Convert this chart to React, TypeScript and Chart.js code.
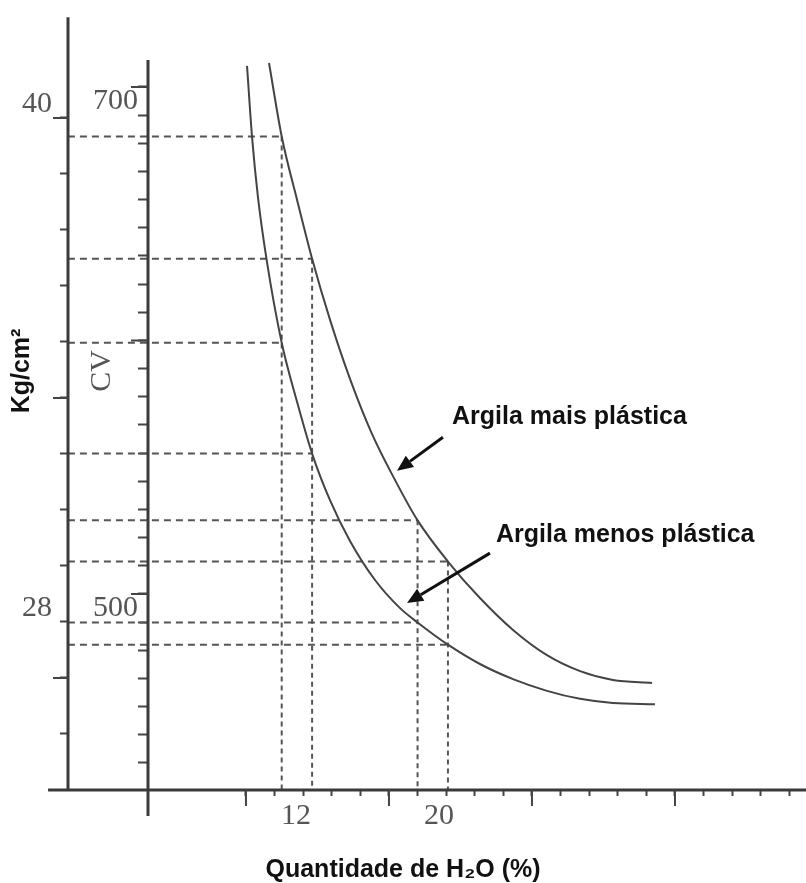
import React, { useEffect, useRef } from 'react';
import { Chart, registerables } from 'chart.js';

Chart.register(...registerables);

// ---------------- data (x = Quantidade de H2O %, y = Kg/cm²) ----------------
const maisPlasticaH2O = [10.49, 11.2, 12.06, 12.9, 13.9, 15.02, 16.25, 17.54, 18.8, 20.5, 22.29, 24.14, 26.04, 27.89, 29.73, 31.92];
const maisPlasticaKg = [41.31, 39.56, 38.05, 36.65, 35.2, 33.79, 32.48, 31.38, 30.42, 29.44, 28.57, 27.81, 27.21, 26.83, 26.62, 26.55];

const menosPlasticaH2O = [9.26, 9.54, 9.87, 10.35, 11.2, 12.06, 12.9, 13.9, 15.02, 16.42, 17.82, 18.8, 20.5, 22.29, 24.14, 26.04, 27.89, 29.73, 32.08];
const menosPlasticaKg = [41.24, 39.55, 38.12, 36.64, 34.65, 33.24, 32.01, 30.9, 29.93, 29.0, 28.33, 27.99, 27.46, 27.0, 26.64, 26.36, 26.17, 26.07, 26.04];

// dashed guide lines: water content and the pressure read on each curve
const guideH2O = [11.2, 12.9, 18.8, 20.5];
const guideKgMais = [39.56, 36.65, 30.42, 29.44];
const guideKgMenos = [34.65, 32.01, 27.99, 27.46];

// tick labels
const xTickLabels = [12, 20];
const kgTickLabels = [40, 28];
const cvTickLabels = [700, 500];

// tick marks
const xTickValues = Array.from({ length: 20 }, (_, k) => 9.2 + 1.6 * k);
const xMajorTicks = [9.2, 17.2, 25.2, 33.2];
const kgTickValues = Array.from({ length: 12 }, (_, k) => 24 + (4 / 3) * (k + 1));
const kgMajorTicks = [40, 100 / 3, 80 / 3];
const cvTickValues = Array.from({ length: 25 }, (_, k) => 500 + (200 / 18) * (k - 6));
const cvMajorTicks = [700, 600, 500];

// annotations
const noteTexts = ['Argila mais plástica', 'Argila menos plástica'];
const noteAnchor = [[20.73, 32.87], [23.19, 30.07]];
const arrowFrom = [[20.22, 32.4], [22.85, 29.64]];
const arrowTo = [[17.65, 31.6], [18.21, 28.45]];

// scale ranges / axis extents
const X_MIN = 3.72;
const X_MAX = 40.53;
const KG_MIN = 24;
const KG_MAX = 43.952;
const CV_MIN = 422.68;
const CV_MAX = 753.25;
const KG_AXIS_AT_X = -0.76;
const X_AXIS_FROM = -1.87;
const KG_AXIS_TOP = 42.4;
const CV_AXIS_TOP = 710.6;
const CV_AXIS_BOTTOM = 412.4;

// styles
const AXIS_COLOR = '#3a3a3a';
const TICK_COLOR = '#444';
const CURVE_COLOR = '#444';
const GUIDE_COLOR = '#555';
const LABEL_COLOR = '#555';
const TEXT_COLOR = '#111';
const serif = "'Liberation Serif', 'Times New Roman', serif";
const sans = "'Liberation Sans', Arial, sans-serif";

const near = (arr: number[], v: number) => arr.some((t) => Math.abs(t - v) < 1e-6);

const decorPlugin = {
  id: 'decor',
  afterDraw(chart: any) {
    const { ctx } = chart;
    const xs = chart.scales.x;
    const kg = chart.scales.kg;
    const cv = chart.scales.cv;
    const seg = (x1: number, y1: number, x2: number, y2: number) => {
      ctx.beginPath();
      ctx.moveTo(x1, y1);
      ctx.lineTo(x2, y2);
      ctx.stroke();
    };
    ctx.save();
    // axis lines
    ctx.strokeStyle = AXIS_COLOR;
    ctx.lineWidth = 3;
    seg(kg.right, kg.getPixelForValue(KG_AXIS_TOP), kg.right, kg.getPixelForValue(KG_MIN));
    seg(cv.right, cv.getPixelForValue(CV_AXIS_TOP), cv.right, cv.getPixelForValue(CV_AXIS_BOTTOM));
    seg(xs.getPixelForValue(X_AXIS_FROM), xs.top, xs.right, xs.top);
    // longer major ticks
    ctx.strokeStyle = TICK_COLOR;
    ctx.lineWidth = 2;
    kgMajorTicks.forEach((v) => {
      const y = kg.getPixelForValue(v);
      seg(kg.right - 15, y, kg.right, y);
    });
    cvMajorTicks.forEach((v) => {
      const y = cv.getPixelForValue(v);
      seg(cv.right - 17, y, cv.right, y);
    });
    xMajorTicks.forEach((v) => {
      const x = xs.getPixelForValue(v);
      seg(x, xs.top, x, xs.top + 16);
    });
    // arrows
    ctx.strokeStyle = TEXT_COLOR;
    ctx.fillStyle = TEXT_COLOR;
    ctx.lineWidth = 3;
    arrowFrom.forEach((from, i) => {
      const x1 = xs.getPixelForValue(from[0]);
      const y1 = kg.getPixelForValue(from[1]);
      const x2 = xs.getPixelForValue(arrowTo[i][0]);
      const y2 = kg.getPixelForValue(arrowTo[i][1]);
      const ang = Math.atan2(y2 - y1, x2 - x1);
      const head = 16;
      const half = 7;
      const bx = x2 - head * Math.cos(ang);
      const by = y2 - head * Math.sin(ang);
      seg(x1, y1, bx, by);
      ctx.beginPath();
      ctx.moveTo(x2, y2);
      ctx.lineTo(bx + half * Math.sin(ang), by - half * Math.cos(ang));
      ctx.lineTo(bx - half * Math.sin(ang), by + half * Math.cos(ang));
      ctx.closePath();
      ctx.fill();
    });
    // notes
    ctx.font = `bold 25px ${sans}`;
    ctx.textAlign = 'left';
    ctx.textBaseline = 'middle';
    noteTexts.forEach((t, i) => {
      ctx.fillText(t, xs.getPixelForValue(noteAnchor[i][0]), kg.getPixelForValue(noteAnchor[i][1]));
    });
    ctx.restore();
  },
};

export default function App() {
  const ref = useRef<HTMLCanvasElement>(null);

  useEffect(() => {
    const canvas = ref.current;
    if (!canvas) return;

    const pts = (xs: number[], ys: number[]) => xs.map((x, i) => ({ x, y: ys[i] }));
    const guideBase = {
      borderColor: GUIDE_COLOR,
      borderWidth: 2,
      pointRadius: 0,
      fill: false,
      clip: false as const,
      xAxisID: 'x',
      yAxisID: 'kg',
    };
    const curveBase = {
      borderColor: CURVE_COLOR,
      borderWidth: 2,
      pointRadius: 0,
      cubicInterpolationMode: 'monotone',
      fill: false,
      xAxisID: 'x',
      yAxisID: 'kg',
    };
    const datasets: any[] = [
      { ...curveBase, label: 'Argila mais plástica', data: pts(maisPlasticaH2O, maisPlasticaKg) },
      { ...curveBase, label: 'Argila menos plástica', data: pts(menosPlasticaH2O, menosPlasticaKg) },
    ];
    guideH2O.forEach((h, i) => {
      [guideKgMais[i], guideKgMenos[i]].forEach((k) => {
        datasets.push({ ...guideBase, label: 'guia', borderDash: [7, 5], data: [{ x: KG_AXIS_AT_X, y: k }, { x: h, y: k }] });
      });
      datasets.push({ ...guideBase, label: 'guia', borderDash: [5, 4], data: [{ x: h, y: guideKgMais[i] }, { x: h, y: KG_MIN }] });
    });

    const tickFont = { family: serif, size: 30, lineHeight: 1 };

    const chart = new Chart(canvas, {
      type: 'line',
      data: { datasets },
      plugins: [decorPlugin],
      options: {
        animation: false,
        responsive: false,
        maintainAspectRatio: false,
        devicePixelRatio: 1,
        events: [],
        layout: { padding: 0, autoPadding: false },
        plugins: {
          legend: { display: false },
          tooltip: { enabled: false },
          title: {
            display: true,
            position: 'bottom',
            text: 'Quantidade de H₂O (%)',
            color: TEXT_COLOR,
            font: { family: sans, size: 25, weight: 'bold', lineHeight: 1 },
            padding: { top: 0, bottom: 0 },
          },
        },
        scales: {
          x: {
            type: 'linear',
            position: 'bottom',
            min: X_MIN,
            max: X_MAX,
            afterBuildTicks: (s: any) => {
              s.ticks = [...xTickValues, ...xTickLabels].sort((a, b) => a - b).map((v) => ({ value: v }));
            },
            afterFit: (s: any) => {
              s.height = 68;
              s.paddingLeft = 0;
              s.paddingRight = 0;
            },
            ticks: {
              autoSkip: false,
              maxRotation: 0,
              minRotation: 0,
              padding: 5,
              color: LABEL_COLOR,
              font: tickFont,
              callback: (v: any) => (near(xTickLabels, Number(v)) ? String(Math.round(Number(v))) : ''),
            },
            grid: {
              drawOnChartArea: false,
              drawTicks: true,
              tickLength: 6,
              tickWidth: 2,
              tickColor: (c: any) => (c.tick && near(xTickLabels, c.tick.value) ? 'rgba(0,0,0,0)' : TICK_COLOR),
            },
            border: { display: false },
          },
          kg: {
            type: 'linear',
            position: 'left',
            weight: 2,
            min: KG_MIN,
            max: KG_MAX,
            afterBuildTicks: (s: any) => {
              s.ticks = kgTickValues.map((v) => ({ value: v }));
            },
            afterFit: (s: any) => {
              s.width = 68;
              s.paddingTop = 0;
              s.paddingBottom = 0;
            },
            ticks: {
              autoSkip: false,
              padding: 8,
              labelOffset: -14,
              color: LABEL_COLOR,
              font: tickFont,
              callback: (v: any) => (near(kgTickLabels, Number(v)) ? String(Math.round(Number(v))) : ''),
            },
            grid: { drawOnChartArea: false, drawTicks: true, tickLength: 8, tickWidth: 2, tickColor: TICK_COLOR },
            border: { display: false },
            title: {
              display: true,
              text: 'Kg/cm²',
              color: TEXT_COLOR,
              font: { family: sans, size: 25, weight: 'bold', lineHeight: 1 },
              padding: { top: 10, bottom: 0 },
            },
          },
          cv: {
            type: 'linear',
            position: 'left',
            weight: 1,
            min: CV_MIN,
            max: CV_MAX,
            afterBuildTicks: (s: any) => {
              s.ticks = cvTickValues.map((v) => ({ value: v }));
            },
            afterFit: (s: any) => {
              s.width = 80;
              s.paddingTop = 0;
              s.paddingBottom = 0;
            },
            ticks: {
              autoSkip: false,
              padding: 0,
              labelOffset: 14,
              color: LABEL_COLOR,
              font: tickFont,
              callback: (v: any) => (near(cvTickLabels, Number(v)) ? String(Math.round(Number(v))) : ''),
            },
            grid: { drawOnChartArea: false, drawTicks: true, tickLength: 10, tickWidth: 2, tickColor: TICK_COLOR },
            border: { display: false },
            title: {
              display: true,
              text: 'CV',
              color: LABEL_COLOR,
              font: { family: serif, size: 30, lineHeight: 1 },
              padding: { top: 19.5, bottom: 0 },
            },
          },
        },
      } as any,
    });

    return () => chart.destroy();
  }, []);

  return (
    <div style={{ position: 'absolute', left: 0, top: -48, width: 806, height: 931 }}>
      <canvas ref={ref} width={806} height={931} style={{ display: 'block', width: 806, height: 931 }} />
    </div>
  );
}
